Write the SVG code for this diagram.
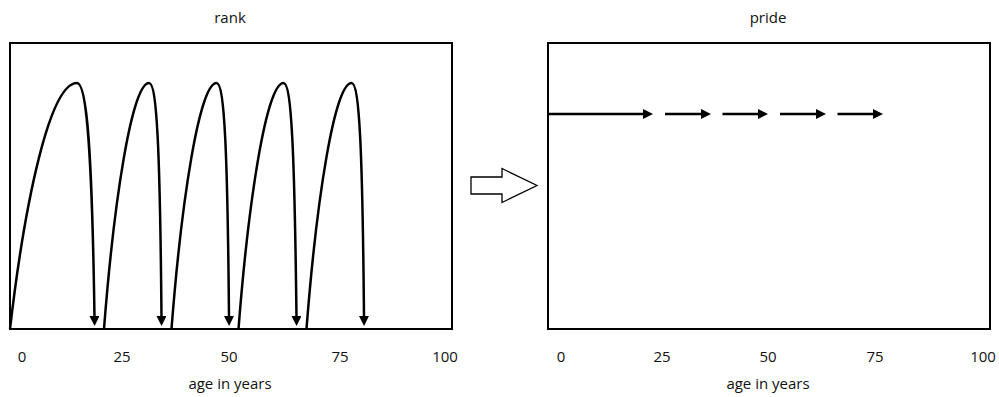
<svg xmlns="http://www.w3.org/2000/svg" width="999" height="397" viewBox="0 0 999 397">
<style>
.box{fill:none;stroke:#000;stroke-width:2}
.arc{fill:none;stroke:#000;stroke-width:2.5;marker-end:url(#ah)}
.line{fill:none;stroke:#000;stroke-width:2.5;marker-end:url(#ah)}
text{font-family:"Open Sans",Lato,"Liberation Sans",sans-serif;font-size:15px;fill:#111;text-anchor:middle}
</style>
<defs>
<marker id="ah" viewBox="0 0 10 10" refX="2" refY="5" markerWidth="4" markerHeight="4" orient="auto" markerUnits="strokeWidth">
<path d="M0,0 L10,5 L0,10 z" fill="#000"/>
</marker>
</defs>
<rect width="999" height="397" fill="#fff"/>
<g id="rank-panel">
<rect class="box" x="10" y="43" width="442" height="286"/>
<text x="230" y="23">rank</text>
<text x="22" y="362">0</text>
<text x="122" y="362">25</text>
<text x="229" y="362">50</text>
<text x="340" y="362">75</text>
<text x="445" y="362">100</text>
<text x="230" y="389">age in years</text>
</g>
<g id="pride-panel">
<rect class="box" x="548" y="43" width="442" height="286"/>
<text x="768" y="23">pride</text>
<text x="561" y="362">0</text>
<text x="662" y="362">25</text>
<text x="768" y="362">50</text>
<text x="875" y="362">75</text>
<text x="983" y="362">100</text>
<text x="768" y="389">age in years</text>
</g>
<g id="transform-arrow">
<path d="M471,177 L502,177 L502,168.5 L537,185.5 L502,202.5 L502,194 L471,194 z" fill="#fff" stroke="#000" stroke-width="1.3"/>
</g>
<g id="connectors">
<path class="arc" d="M10,329 C25,200 50,83 77,83 C87,83 92,150 94.5,318"/>
<path class="arc" d="M104,329 C114,200 132,83 149,83 C157,83 160,150 161.5,318"/>
<path class="arc" d="M171.5,329 C181.5,200 199.5,83 216.5,83 C224.5,83 227.5,150 229,318"/>
<path class="arc" d="M238.5,329 C248.5,200 266.5,83 283.5,83 C291.5,83 294.5,150 296.5,318"/>
<path class="arc" d="M306.5,329 C316.5,200 334.5,83 351.5,83 C359.5,83 362.5,150 364,318"/>
<path class="line" d="M548,114 L645,114"/>
<path class="line" d="M665,114 L703,114"/>
<path class="line" d="M722.5,114 L760,114"/>
<path class="line" d="M780,114 L818,114"/>
<path class="line" d="M837.5,114 L875,114"/>
</g>
</svg>
